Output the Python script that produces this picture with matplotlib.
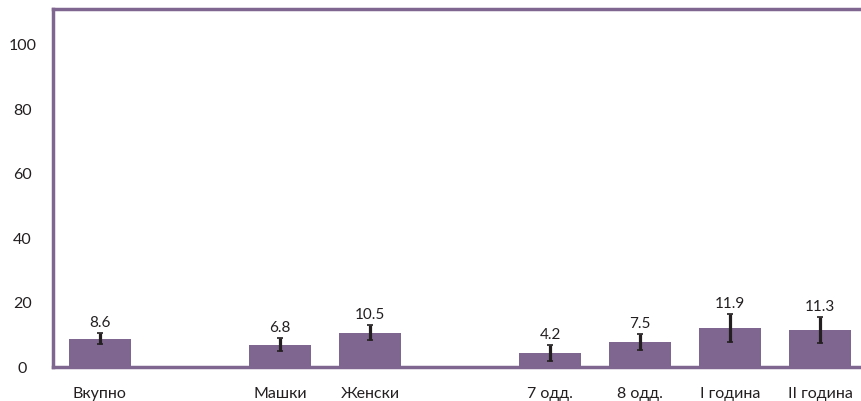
import matplotlib
matplotlib.use("Agg")
import matplotlib.pyplot as plt

# groups and values
labels = ['Вкупно', 'Машки', 'Женски', '7 одд.', '8 одд.', 'I година', 'II година']
positions = [0, 2, 3, 5, 6, 7, 8]
values = [8.6, 6.8, 10.5, 4.2, 7.5, 11.9, 11.3]
errors = [1.7, 1.9, 2.3, 2.6, 2.5, 4.3, 4.1]

purple = '#7f6690'
dark = '#231f20'

plt.rcParams['font.family'] = ['Lato', 'DejaVu Sans']

fig = plt.figure(figsize=(8.61, 4.02), dpi=100)
ax = fig.add_axes([53 / 861, 34.5 / 402, 1 - 53 / 861 + 0.01, 358 / 402])

ax.bar(positions, values, width=0.69, color=purple, zorder=2)
ax.errorbar(positions, values, yerr=errors, fmt='none', ecolor=dark,
            elinewidth=2.3, capsize=2.5, capthick=1.2, zorder=3)

for x, v, e in zip(positions, values, errors):
    ax.annotate(f'{v:.1f}', (x, v + e), xytext=(0, 5), textcoords='offset points',
                ha='center', va='baseline', fontsize=11, color=dark)

ax.set_xlim(-0.52, 8.55)
ax.set_ylim(0, 111)
ax.set_yticks([0, 20, 40, 60, 80, 100])
ax.set_xticks(positions)
ax.set_xticklabels(labels)

for side in ['left', 'top', 'bottom']:
    ax.spines[side].set_color(purple)
    ax.spines[side].set_linewidth(2.5)
ax.spines['right'].set_visible(False)

ax.tick_params(axis='y', length=0, pad=22, labelsize=11.5, labelcolor=dark)
ax.tick_params(axis='x', length=0, pad=14, labelsize=11.5, labelcolor=dark)
for t in ax.get_yticklabels():
    t.set_horizontalalignment('center')

fig.savefig('out.png', dpi=100)
